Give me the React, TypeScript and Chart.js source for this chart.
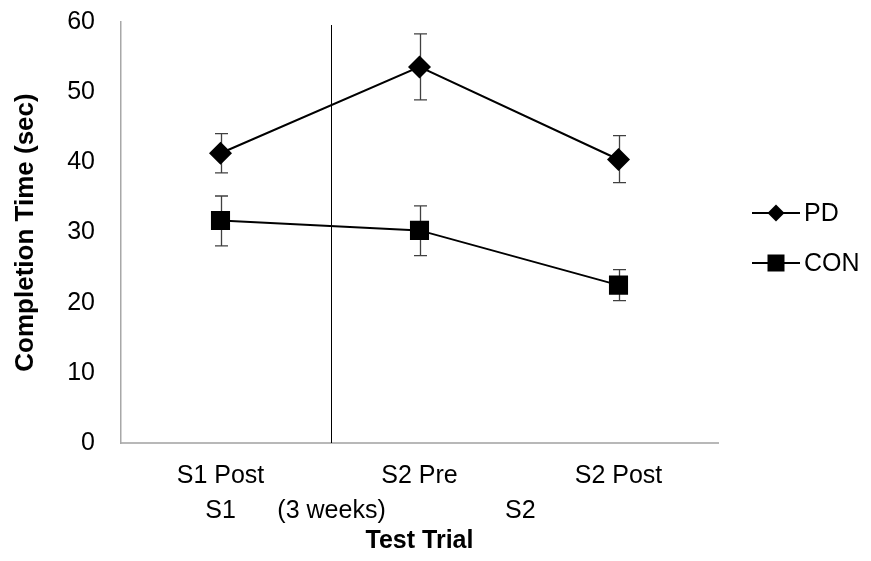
import React, { useEffect, useRef } from 'react';
import { Chart, registerables } from 'chart.js';

Chart.register(...registerables);

// ---- data ----
const categories = ['S1 Post', 'S2 Pre', 'S2 Post'];
const seriesNames = ['PD', 'CON'];
const pdMean = [41.3, 53.6, 40.4];
const pdUpper = [44.1, 58.3, 43.8];
const pdLower = [38.5, 48.9, 37.1];
const conMean = [31.7, 30.3, 22.5];
const conUpper = [35.2, 33.8, 24.7];
const conLower = [28.1, 26.7, 20.3];
const yTicks = [0, 10, 20, 30, 40, 50, 60];
const periodLabels = ['S1', '(3 weeks)', 'S2'];
const periodIndex = [0, 0.558, 1.507];
const dividerIndex = 0.555;
const yTitle = 'Completion Time (sec)';
const xTitle = 'Test Trial';

const FONT = "'Liberation Sans', Arial, sans-serif";
const TEXT = '#000000';

const errorBarPlugin = {
  id: 'errorBars',
  beforeDatasetsDraw(chart: any) {
    const { ctx, scales } = chart;
    const x = scales.x;
    const y = scales.y;
    const bounds = [
      [pdLower, pdUpper],
      [conLower, conUpper],
    ];
    ctx.save();
    ctx.strokeStyle = '#404040';
    ctx.lineWidth = 1.3;
    bounds.forEach(([lo, hi]) => {
      lo.forEach((l: number, i: number) => {
        const px = Math.round(x.getPixelForValue(i)) + 0.5;
        const yl = y.getPixelForValue(l);
        const yh = y.getPixelForValue(hi[i]);
        ctx.beginPath();
        ctx.moveTo(px, yl);
        ctx.lineTo(px, yh);
        ctx.moveTo(px - 6.5, yl);
        ctx.lineTo(px + 6.5, yl);
        ctx.moveTo(px - 6.5, yh);
        ctx.lineTo(px + 6.5, yh);
        ctx.stroke();
      });
    });
    ctx.restore();
  },
};

const decorPlugin = {
  id: 'decor',
  beforeDatasetsDraw(chart: any) {
    const { ctx, scales, chartArea } = chart;
    const px = Math.round(scales.x.getPixelForValue(dividerIndex)) + 0.5;
    ctx.save();
    ctx.strokeStyle = '#000000';
    ctx.lineWidth = 1;
    ctx.beginPath();
    ctx.moveTo(px, chartArea.top + 3);
    ctx.lineTo(px, chartArea.bottom);
    ctx.stroke();
    ctx.restore();
  },
  afterDraw(chart: any) {
    const { ctx, scales, chartArea } = chart;
    const x = scales.x;
    ctx.save();
    ctx.fillStyle = TEXT;
    ctx.font = `25px ${FONT}`;
    ctx.textAlign = 'center';
    ctx.textBaseline = 'middle';
    periodLabels.forEach((t, i) => {
      ctx.fillText(t, x.getPixelForValue(periodIndex[i]), chartArea.bottom + 68);
    });

    // legend
    const legendLeft = chartArea.right + 34;
    const rowY = [213, 263];
    seriesNames.forEach((name, i) => {
      const cy = rowY[i];
      ctx.strokeStyle = '#000000';
      ctx.lineWidth = 2;
      ctx.beginPath();
      ctx.moveTo(legendLeft, cy);
      ctx.lineTo(legendLeft + 48, cy);
      ctx.stroke();
      const cx = legendLeft + 24;
      ctx.fillStyle = '#000000';
      ctx.beginPath();
      if (i === 0) {
        const r = 8.5;
        ctx.moveTo(cx, cy - r);
        ctx.lineTo(cx + r, cy);
        ctx.lineTo(cx, cy + r);
        ctx.lineTo(cx - r, cy);
        ctx.closePath();
      } else {
        const h = 8.5;
        ctx.rect(cx - h, cy - h, 2 * h, 2 * h);
      }
      ctx.fill();
      ctx.fillStyle = TEXT;
      ctx.textAlign = 'left';
      ctx.fillText(name, legendLeft + 52, cy + 1);
    });
    ctx.restore();
  },
};

export default function App() {
  const ref = useRef<HTMLCanvasElement | null>(null);

  useEffect(() => {
    document.body.style.margin = '0';
    const canvas = ref.current;
    if (!canvas) return;
    Chart.defaults.font.family = FONT;
    Chart.defaults.color = TEXT;
    const chart = new Chart(canvas, {
      type: 'line',
      data: {
        labels: categories,
        datasets: [
          {
            label: seriesNames[0],
            data: pdMean,
            borderColor: '#000000',
            backgroundColor: '#000000',
            borderWidth: 2,
            pointStyle: 'rectRot',
            pointRadius: 11.5,
            pointHoverRadius: 11.5,
            pointBorderWidth: 0,
            tension: 0,
          },
          {
            label: seriesNames[1],
            data: conMean,
            borderColor: '#000000',
            backgroundColor: '#000000',
            borderWidth: 2,
            pointStyle: 'rect',
            pointRadius: 13.5,
            pointHoverRadius: 13.5,
            pointBorderWidth: 0,
            tension: 0,
          },
        ],
      },
      options: {
        animation: false,
        responsive: false,
        maintainAspectRatio: false,
        events: [],
        layout: { padding: { left: 0, right: 153, top: 22, bottom: 0 } },
        plugins: {
          legend: { display: false },
          tooltip: { enabled: false },
        },
        scales: {
          x: {
            type: 'category',
            offset: true,
            grid: { display: false, drawTicks: false },
            border: { display: true, color: '#b8b8b8', width: 2 },
            ticks: {
              padding: 18,
              font: { size: 25, family: FONT },
              color: TEXT,
              maxRotation: 0,
              autoSkip: false,
            },
            title: {
              display: true,
              text: xTitle,
              font: { size: 25, weight: 'bold', family: FONT },
              color: TEXT,
              padding: { top: 0, bottom: 5 },
            },
            afterFit: (s: any) => {
              s.height = 118;
              s.paddingLeft = 0;
              s.paddingRight = 0;
            },
          },
          y: {
            min: 0,
            max: 60,
            grid: { display: false, drawTicks: false },
            border: { display: true, color: '#a8a8a8', width: 1.5 },
            ticks: {
              stepSize: 10,
              padding: 26,
              font: { size: 25, family: FONT },
              color: TEXT,
            },
            afterBuildTicks: (s: any) => {
              s.ticks = yTicks.map((v) => ({ value: v }));
            },
            title: {
              display: true,
              text: yTitle,
              font: { size: 26, weight: 'bold', family: FONT },
              color: TEXT,
              padding: { top: 10, bottom: 0 },
            },
            afterFit: (s: any) => {
              s.width = 121;
              s.paddingTop = 0;
              s.paddingBottom = 0;
            },
          },
        },
      },
      plugins: [errorBarPlugin, decorPlugin],
    } as any);
    return () => chart.destroy();
  }, []);

  return (
    <div style={{ position: 'absolute', left: 0, top: 0, width: 871, height: 561 }}>
      <canvas ref={ref} width={871} height={561} style={{ width: 871, height: 561 }} />
    </div>
  );
}
